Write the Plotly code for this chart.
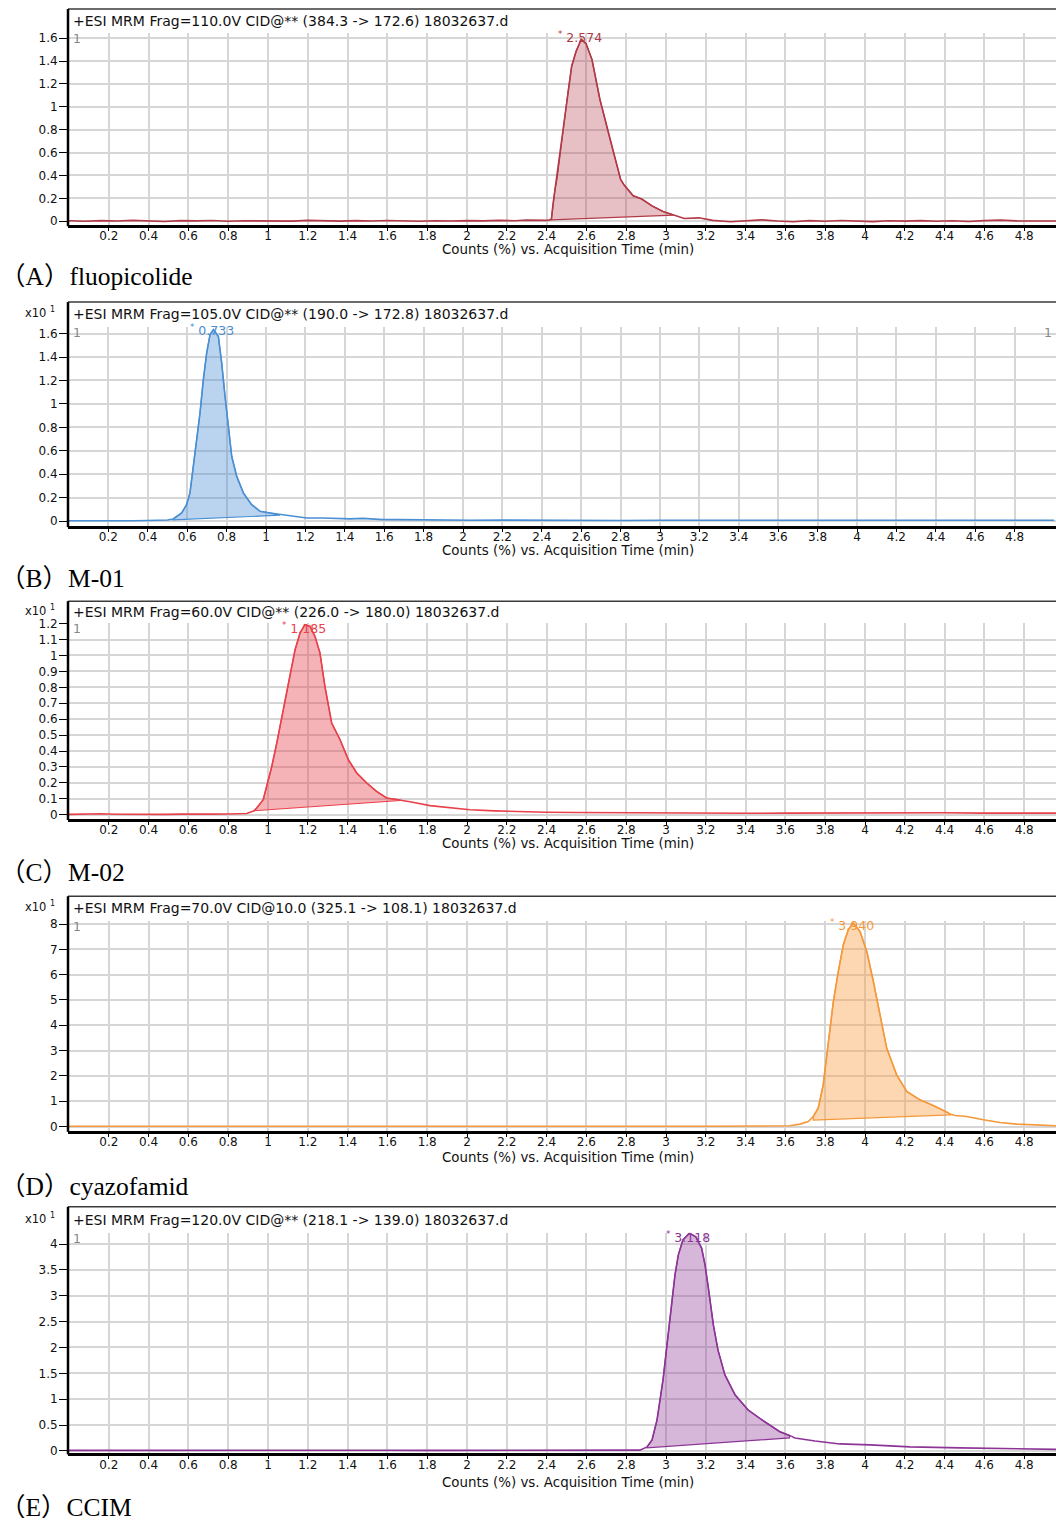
import plotly.graph_objects as go

W, H = 1056, 1523

# ---------------- shared axis data ----------------
x_tick_values = [0.2, 0.4, 0.6, 0.8, 1.0, 1.2, 1.4, 1.6, 1.8, 2.0, 2.2, 2.4,
                 2.6, 2.8, 3.0, 3.2, 3.4, 3.6, 3.8, 4.0, 4.2, 4.4, 4.6, 4.8]
x_tick_labels = ["0.2", "0.4", "0.6", "0.8", "1", "1.2", "1.4", "1.6", "1.8", "2", "2.2", "2.4",
                 "2.6", "2.8", "3", "3.2", "3.4", "3.6", "3.8", "4", "4.2", "4.4", "4.6", "4.8"]
x_axis_title = "Counts (%) vs. Acquisition Time (min)"

# ---------------- (A) fluopicolide ----------------
a_header = "+ESI MRM Frag=110.0V CID@** (384.3 -&gt; 172.6) 18032637.d"
a_label = "（A）fluopicolide"
a_time = [0.00, 0.08, 0.16, 0.24, 0.32, 0.40, 0.48, 0.56, 0.64, 0.72, 0.80, 0.88, 0.96,
          1.04, 1.12, 1.20, 1.28, 1.36, 1.44, 1.52, 1.60, 1.68, 1.76, 1.84, 1.92, 2.00,
          2.08, 2.16, 2.24, 2.30, 2.36, 2.40, 2.412, 2.424, 2.432, 2.442, 2.452, 2.467,
          2.489, 2.508, 2.526, 2.548, 2.574, 2.598, 2.628, 2.668, 2.719, 2.772, 2.789,
          2.834, 2.878, 2.932, 2.985, 3.039, 3.092, 3.164, 3.235, 3.324, 3.40, 3.48,
          3.56, 3.64, 3.72, 3.80, 3.88, 3.96, 4.04, 4.12, 4.20, 4.28, 4.36, 4.44, 4.52,
          4.60, 4.68, 4.76, 4.84, 4.92, 4.96]
a_counts = [0.004, 0.000, 0.006, 0.002, 0.008, 0.001, -0.002, 0.006, 0.003, 0.007, 0.000,
            0.004, 0.002, 0.006, 0.001, 0.008, 0.005, 0.001, 0.006, 0.002, 0.007, 0.003,
            0.000, 0.005, 0.002, 0.006, 0.003, 0.008, 0.004, 0.010, 0.006, 0.008, 0.010,
            0.017, 0.146, 0.277, 0.365, 0.583, 0.889, 1.134, 1.355, 1.483, 1.590, 1.553,
            1.413, 1.064, 0.714, 0.365, 0.318, 0.224, 0.194, 0.132, 0.085, 0.054, 0.024,
            0.030, 0.008, -0.004, 0.004, 0.012, 0.002, -0.004, 0.006, 0.000, 0.007, 0.002,
            -0.003, 0.005, 0.001, 0.006, 0.000, 0.004, -0.002, 0.006, 0.010, 0.003, 0.001,
            0.004, 0.002]
a_baseline_time = [2.424, 3.039]
a_baseline_counts = [0.012, 0.054]
a_apex_time = 2.574
a_apex_counts = 1.590
a_apex_label = "2.574"
a_y_ticks = [0, 0.2, 0.4, 0.6, 0.8, 1.0, 1.2, 1.4, 1.6]
a_y_tick_labels = ["0", "0.2", "0.4", "0.6", "0.8", "1", "1.2", "1.4", "1.6"]

# ---------------- (B) M-01 ----------------
b_header = "+ESI MRM Frag=105.0V CID@** (190.0 -&gt; 172.8) 18032637.d"
b_label = "（B）M-01"
b_time = [0.00, 0.08, 0.16, 0.24, 0.32, 0.40, 0.46, 0.50, 0.529, 0.572, 0.597, 0.614,
          0.631, 0.648, 0.665, 0.682, 0.699, 0.716, 0.733, 0.758, 0.775, 0.792, 0.809,
          0.826, 0.851, 0.885, 0.927, 0.970, 1.020, 1.071, 1.088, 1.139, 1.207, 1.291,
          1.426, 1.492, 1.594, 1.680, 1.80, 1.92, 2.04, 2.20, 2.40, 2.60, 2.80, 3.00,
          3.20, 3.40, 3.60, 3.80, 4.00, 4.20, 4.40, 4.60, 4.80, 5.00]
b_counts = [0.004, 0.003, 0.005, 0.002, 0.004, 0.006, 0.008, 0.010, 0.019, 0.070, 0.141,
            0.241, 0.468, 0.695, 0.923, 1.207, 1.435, 1.591, 1.634, 1.577, 1.350, 1.065,
            0.781, 0.553, 0.384, 0.241, 0.141, 0.084, 0.070, 0.057, 0.055, 0.041, 0.027,
            0.027, 0.019, 0.024, 0.013, 0.013, 0.010, 0.012, 0.008, 0.009, 0.007, 0.008,
            0.006, 0.008, 0.007, 0.006, 0.008, 0.007, 0.006, 0.008, 0.007, 0.008, 0.007,
            0.008]
b_baseline_time = [0.529, 1.071]
b_baseline_counts = [0.010, 0.051]
b_apex_time = 0.733
b_apex_counts = 1.634
b_apex_label = "0.733"
b_y_ticks = [0, 0.2, 0.4, 0.6, 0.8, 1.0, 1.2, 1.4, 1.6]
b_y_tick_labels = ["0", "0.2", "0.4", "0.6", "0.8", "1", "1.2", "1.4", "1.6"]

# ---------------- (C) M-02 ----------------
c_header = "+ESI MRM Frag=60.0V CID@** (226.0 -&gt; 180.0) 18032637.d"
c_label = "（C）M-02"
c_time = [0.00, 0.08, 0.16, 0.24, 0.32, 0.40, 0.48, 0.56, 0.64, 0.72, 0.80, 0.86, 0.893,
          0.930, 0.943, 0.976, 0.993, 1.019, 1.044, 1.077, 1.111, 1.136, 1.161, 1.185,
          1.211, 1.236, 1.261, 1.286, 1.320, 1.362, 1.404, 1.446, 1.496, 1.546, 1.596,
          1.663, 1.714, 1.814, 1.90, 2.015, 2.14, 2.266, 2.40, 2.55, 2.668, 2.80, 3.00,
          3.20, 3.40, 3.60, 3.80, 4.00, 4.20, 4.40, 4.60, 4.80, 4.96]
c_counts = [0.002, 0.004, 0.006, 0.003, 0.002, 0.003, 0.002, 0.004, 0.006, 0.004, 0.005,
            0.006, 0.008, 0.025, 0.042, 0.094, 0.178, 0.303, 0.450, 0.660, 0.890, 1.036,
            1.141, 1.193, 1.183, 1.120, 1.016, 0.806, 0.576, 0.471, 0.345, 0.262, 0.199,
            0.146, 0.105, 0.094, 0.082, 0.057, 0.045, 0.031, 0.024, 0.019, 0.016, 0.014,
            0.013, 0.011, 0.010, 0.012, 0.009, 0.010, 0.011, 0.009, 0.010, 0.012, 0.010,
            0.011, 0.010]
c_baseline_time = [0.930, 1.663]
c_baseline_counts = [0.027, 0.089]
c_apex_time = 1.185
c_apex_counts = 1.193
c_apex_label = "1.185"
c_y_ticks = [0, 0.1, 0.2, 0.3, 0.4, 0.5, 0.6, 0.7, 0.8, 0.9, 1.0, 1.1, 1.2]
c_y_tick_labels = ["0", "0.1", "0.2", "0.3", "0.4", "0.5", "0.6", "0.7", "0.8", "0.9",
                   "1", "1.1", "1.2"]

# ---------------- (D) cyazofamid ----------------
d_header = "+ESI MRM Frag=70.0V CID@10.0 (325.1 -&gt; 108.1) 18032637.d"
d_label = "（D）cyazofamid"
d_time = [0.00, 0.20, 0.40, 0.60, 0.80, 1.00, 1.20, 1.40, 1.60, 1.80, 2.00, 2.20, 2.40,
          2.60, 2.80, 3.00, 3.20, 3.40, 3.606, 3.623, 3.673, 3.715, 3.740, 3.765, 3.790,
          3.816, 3.841, 3.866, 3.891, 3.916, 3.940, 3.975, 4.009, 4.042, 4.075, 4.109,
          4.159, 4.210, 4.276, 4.343, 4.411, 4.432, 4.452, 4.511, 4.595, 4.678, 4.762,
          4.846, 4.960]
d_counts = [0.010, 0.012, 0.010, 0.011, 0.010, 0.012, 0.011, 0.010, 0.012, 0.010, 0.011,
            0.012, 0.010, 0.011, 0.010, 0.012, 0.011, 0.010, 0.012, 0.028, 0.095, 0.198,
            0.395, 0.727, 1.648, 3.229, 4.941, 6.126, 7.182, 7.775, 8.040, 7.708, 6.917,
            5.731, 4.415, 3.099, 2.043, 1.383, 1.055, 0.830, 0.569, 0.480, 0.435, 0.395,
            0.265, 0.158, 0.095, 0.067, 0.028]
d_baseline_time = [3.740, 4.432]
d_baseline_counts = [0.253, 0.462]
d_apex_time = 3.940
d_apex_counts = 8.040
d_apex_label = "3.940"
d_y_ticks = [0, 1, 2, 3, 4, 5, 6, 7, 8]
d_y_tick_labels = ["0", "1", "2", "3", "4", "5", "6", "7", "8"]

# ---------------- (E) CCIM ----------------
e_header = "+ESI MRM Frag=120.0V CID@** (218.1 -&gt; 139.0) 18032637.d"
e_label = "（E）CCIM"
e_time = [0.00, 0.20, 0.40, 0.60, 0.80, 1.00, 1.20, 1.40, 1.60, 1.80, 2.00, 2.20, 2.40,
          2.60, 2.80, 2.869, 2.905, 2.930, 2.955, 2.985, 3.005, 3.029, 3.045, 3.062,
          3.085, 3.118, 3.150, 3.179, 3.196, 3.213, 3.238, 3.261, 3.296, 3.347, 3.412,
          3.482, 3.573, 3.620, 3.648, 3.749, 3.874, 4.025, 4.226, 4.477, 4.729, 4.960]
e_counts = [0.010, 0.012, 0.010, 0.011, 0.010, 0.012, 0.011, 0.010, 0.012, 0.010, 0.011,
            0.012, 0.010, 0.011, 0.012, 0.015, 0.077, 0.213, 0.600, 1.373, 2.050, 2.824,
            3.400, 3.791, 4.080, 4.210, 4.139, 3.921, 3.600, 3.147, 2.437, 1.954, 1.470,
            1.083, 0.793, 0.600, 0.368, 0.300, 0.251, 0.193, 0.135, 0.116, 0.077, 0.058,
            0.039, 0.029]
e_baseline_time = [2.905, 3.620]
e_baseline_counts = [0.060, 0.250]
e_apex_time = 3.118
e_apex_counts = 4.210
e_apex_label = "3.118"
e_y_ticks = [0, 0.5, 1.0, 1.5, 2.0, 2.5, 3.0, 3.5, 4.0]
e_y_tick_labels = ["0", "0.5", "1", "1.5", "2", "2.5", "3", "3.5", "4"]

# ---------------- styling / geometry (target pixels in the 1056x1523 picture) ----------------
panels = [
    dict(time=a_time, counts=a_counts, bt=a_baseline_time, bc=a_baseline_counts,
         apex_t=a_apex_time, apex_c=a_apex_counts, apex_label=a_apex_label,
         yticks=a_y_ticks, yticklabels=a_y_tick_labels, header=a_header, label=a_label,
         color="#b23a48", fill="rgba(178,58,72,0.32)", x10=False,
         frame_top=9.5, grid_top=33, axis=225.7, zero=221.7, scale=114.4,
         x_zero=69, x_scale=199, header_y=21, title_y=249.5, label_y=277, apex_dy=2),
    dict(time=b_time, counts=b_counts, bt=b_baseline_time, bc=b_baseline_counts,
         apex_t=b_apex_time, apex_c=b_apex_counts, apex_label=b_apex_label,
         yticks=b_y_ticks, yticklabels=b_y_tick_labels, header=b_header, label=b_label,
         color="#4a8fd4", fill="rgba(74,143,212,0.38)", x10=True,
         frame_top=302.5, grid_top=327, axis=526.5, zero=521.5, scale=117.2,
         x_zero=69, x_scale=197, header_y=314.5, title_y=550.5, label_y=579, apex_dy=0),
    dict(time=c_time, counts=c_counts, bt=c_baseline_time, bc=c_baseline_counts,
         apex_t=c_apex_time, apex_c=c_apex_counts, apex_label=c_apex_label,
         yticks=c_y_ticks, yticklabels=c_y_tick_labels, header=c_header, label=c_label,
         color="#e8424c", fill="rgba(232,66,76,0.40)", x10=True,
         frame_top=601.5, grid_top=623, axis=819.3, zero=815, scale=159.2,
         x_zero=69, x_scale=199, header_y=612.5, title_y=843.5, label_y=873, apex_dy=-3),
    dict(time=d_time, counts=d_counts, bt=d_baseline_time, bc=d_baseline_counts,
         apex_t=d_apex_time, apex_c=d_apex_counts, apex_label=d_apex_label,
         yticks=d_y_ticks, yticklabels=d_y_tick_labels, header=d_header, label=d_label,
         color="#f4983a", fill="rgba(248,160,70,0.42)", x10=True,
         frame_top=896.5, grid_top=921, axis=1131, zero=1126.7, scale=25.3,
         x_zero=69, x_scale=199, header_y=908.5, title_y=1157.5, label_y=1187, apex_dy=-2),
    dict(time=e_time, counts=e_counts, bt=e_baseline_time, bc=e_baseline_counts,
         apex_t=e_apex_time, apex_c=e_apex_counts, apex_label=e_apex_label,
         yticks=e_y_ticks, yticklabels=e_y_tick_labels, header=e_header, label=e_label,
         color="#8c3596", fill="rgba(140,53,150,0.36)", x10=True,
         frame_top=1207, grid_top=1233, axis=1453.5, zero=1451, scale=51.7,
         x_zero=69, x_scale=199, header_y=1220, title_y=1482.5, label_y=1508, apex_dy=-4),
]

LEFT_PX, RIGHT_PX = 68, 1056
SANS = "DejaVu Sans, Verdana, sans-serif"
SERIF = "Liberation Serif, Times New Roman, Noto Sans CJK SC, serif"
SMALL = 12.5
# the captured page is slightly squeezed vertically; map target picture pixels to figure pixels
V_OFF, V_SCL = 6.5, 0.9925


def fy(p):
    return (p - V_OFF) / V_SCL


def py(p):
    return 1 - fy(p) / H


def pxx(p):
    return p / W


fig = go.Figure()
shapes = []
annotations = []

for i, p in enumerate(panels):
    n = i + 1
    xa = "x" if n == 1 else f"x{n}"
    ya = "y" if n == 1 else f"y{n}"
    xkey = "xaxis" if n == 1 else f"xaxis{n}"
    ykey = "yaxis" if n == 1 else f"yaxis{n}"

    # integrated peak area polygon (curve segment + integration baseline)
    s, e = p["bt"][0], p["bt"][1]
    seg_t = [t for t in p["time"] if s <= t <= e]
    seg_c = [c for t, c in zip(p["time"], p["counts"]) if s <= t <= e]
    fig.add_trace(go.Scatter(
        x=seg_t + [p["bt"][1], p["bt"][0], seg_t[0]],
        y=seg_c + [p["bc"][1], p["bc"][0], seg_c[0]],
        mode="lines", fill="toself", fillcolor=p["fill"],
        line=dict(color=p["color"], width=1.2),
        hoverinfo="skip", showlegend=False, xaxis=xa, yaxis=ya))
    # chromatogram trace
    fig.add_trace(go.Scatter(
        x=p["time"], y=p["counts"], mode="lines",
        line=dict(color=p["color"], width=1.6),
        showlegend=False, xaxis=xa, yaxis=ya))

    x_range = [(LEFT_PX - p["x_zero"]) / p["x_scale"], (RIGHT_PX - p["x_zero"]) / p["x_scale"]]
    y_range = [(p["zero"] - p["axis"]) / p["scale"], (p["zero"] - p["grid_top"]) / p["scale"]]

    fig.update_layout(**{
        xkey: dict(
            domain=[pxx(LEFT_PX), 1.0], range=x_range, anchor=ya,
            tickvals=x_tick_values, ticktext=x_tick_labels,
            showgrid=True, gridcolor="#d6d6d6", gridwidth=1.5,
            ticks="outside", ticklen=3, tickcolor="#000", tickwidth=1,
            ticklabelstandoff=-5,
            showline=True, linecolor="#000", linewidth=2.5,
            zeroline=False, tickfont=dict(family=SANS, size=12, color="#111"),
        ),
        ykey: dict(
            domain=[py(p["axis"]), py(p["grid_top"])], range=y_range, anchor=xa,
            tickvals=p["yticks"], ticktext=p["yticklabels"],
            showgrid=True, gridcolor="#d6d6d6", gridwidth=1.5,
            ticks="outside", ticklen=8, tickcolor="#000", tickwidth=1,
            ticklabelstandoff=-1,
            showline=False, zeroline=False,
            tickfont=dict(family=SANS, size=12, color="#111"),
        ),
    })

    # frame: top line and heavy left axis line reaching the header strip
    shapes.append(dict(type="line", xref="paper", yref="paper",
                       x0=pxx(LEFT_PX), x1=1.0, y0=py(p["frame_top"]), y1=py(p["frame_top"]),
                       line=dict(color="#3a3a3a", width=1.5)))
    shapes.append(dict(type="line", xref="paper", yref="paper",
                       x0=pxx(LEFT_PX), x1=pxx(LEFT_PX), y0=py(p["frame_top"]), y1=py(p["axis"] + 1),
                       line=dict(color="#000", width=2.5)))

    # header text
    annotations.append(dict(xref="paper", yref="paper", x=pxx(71), y=py(p["header_y"]),
                            xanchor="left", yanchor="middle", showarrow=False,
                            text=p["header"], font=dict(family=SANS, size=14, color="#111")))
    # gray trace number
    annotations.append(dict(xref="paper", yref="paper", x=pxx(71), y=py(p["grid_top"] + 6),
                            xanchor="left", yanchor="middle", showarrow=False,
                            text="1", font=dict(family=SANS, size=SMALL, color="#888")))
    if n == 2:
        annotations.append(dict(xref="paper", yref="paper", x=pxx(1054), y=py(p["grid_top"] + 6),
                                xanchor="right", yanchor="middle", showarrow=False,
                                text="1", font=dict(family=SANS, size=SMALL, color="#888")))
    # exponent label
    if p["x10"]:
        annotations.append(dict(xref="paper", yref="paper", x=pxx(57), y=py(p["header_y"] - 1.5),
                                xanchor="right", yanchor="middle", showarrow=False,
                                text="x10 <sup>1</sup>", font=dict(family=SANS, size=11.5, color="#111")))
    # apex retention time label
    annotations.append(dict(xref=xa, yref=ya, x=p["apex_t"], y=p["apex_c"],
                            xanchor="left", yanchor="middle", showarrow=False,
                            xshift=-25, yshift=p["apex_dy"],
                            text="<sup>*</sup> " + p["apex_label"],
                            font=dict(family=SANS, size=SMALL, color=p["color"])))
    # x-axis title
    annotations.append(dict(xref="paper", yref="paper", x=pxx(568), y=py(p["title_y"]),
                            xanchor="center", yanchor="middle", showarrow=False,
                            text=x_axis_title, font=dict(family=SANS, size=13.4, color="#111")))
    # panel label
    annotations.append(dict(xref="paper", yref="paper", x=pxx(-2), y=py(p["label_y"]),
                            xanchor="left", yanchor="middle", showarrow=False,
                            text=p["label"], font=dict(family=SERIF, size=25.5, color="#000")))

fig.update_layout(
    width=W, height=H, margin=dict(l=0, r=0, t=0, b=0),
    paper_bgcolor="#fff", plot_bgcolor="#fff",
    shapes=shapes, annotations=annotations, showlegend=False,
)

page_fix = (
    "document.documentElement.style.margin='0px';"
    "document.documentElement.style.padding='0px';"
    "document.documentElement.style.overflow='hidden';"
    "document.body.style.margin='0px';"
    "document.body.style.padding='0px';"
    "document.body.style.overflow='hidden';"
    "document.body.style.height='1523px';"
)
fig.write_html("out.html", config={"displayModeBar": False}, post_script=page_fix)
